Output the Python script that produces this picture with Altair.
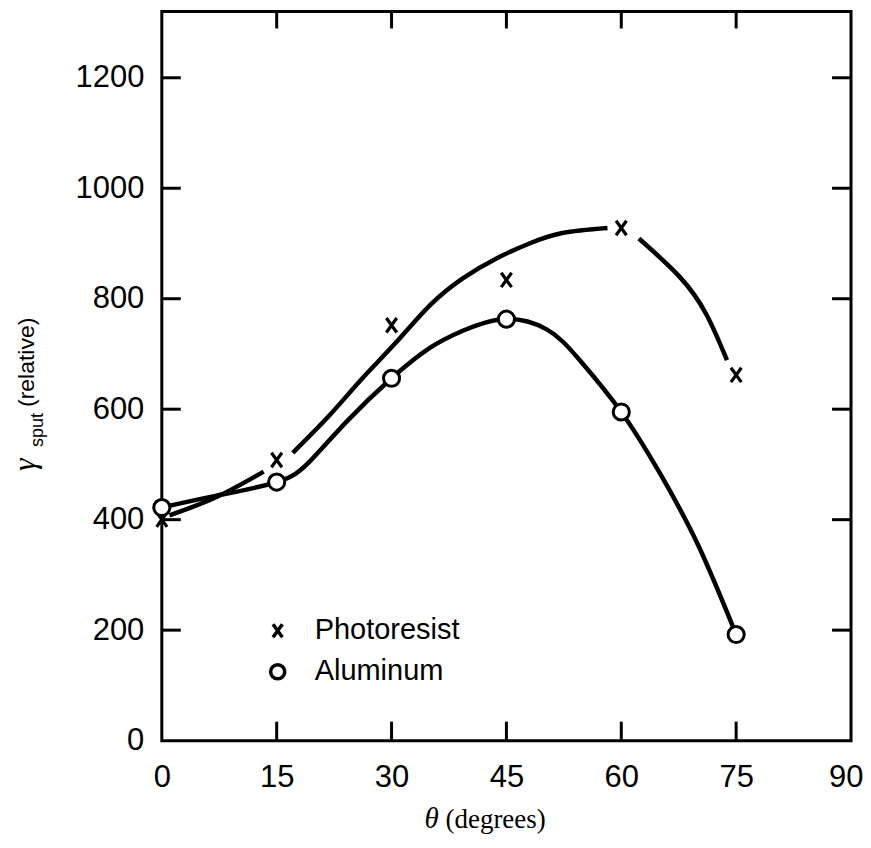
import altair as alt
import pandas as pd

# ---- data ----
theta = [0, 15, 30, 45, 60, 75]
photoresist = [400, 508, 752, 834, 928, 662]
aluminum = [422, 468, 656, 763, 595, 192]

# hand-drawn fitted curve for photoresist (broken into pieces around markers)
pr_curve_theta = [1, 7, 13.3, 17.1, 21.9, 26.2, 30.6, 35.0, 39.3, 43.7, 48.0, 52.3, 58.2,
                  62.3, 67.6, 71.1, 73.8]
pr_curve_val = [408, 440, 487, 521, 589, 656, 721, 788, 837, 873, 900, 919, 928,
                909, 840, 772, 689]
pr_curve_seg = [1, 1, 1, 2, 2, 2, 2, 2, 2, 2, 2, 2, 2, 3, 3, 3, 3]

# curve through aluminum points
al_curve_theta = [0, 7, 15, 19.3, 24.1, 30, 35, 39.3, 44.6, 50.2, 54.5, 60, 65, 70, 75]
al_curve_val = [422, 443, 468, 505, 577, 656, 711, 742, 763, 745, 690, 595, 485, 355, 192]

x_ticks = [15, 30, 45, 60, 75]
y_ticks = [200, 400, 600, 800, 1000, 1200]
x_labels = [0, 15, 30, 45, 60, 75, 90]
y_labels = [0, 200, 400, 600, 800, 1000, 1200]

legend_labels = ["Photoresist", "Aluminum"]

W, H = 690, 730
X_PATH = "M-0.72,-1L0.72,1M-0.72,1L0.72,-1"

xs = alt.Scale(domain=[0, 90], nice=False, zero=False)
ys = alt.Scale(domain=[0, 1320], nice=False, zero=False)

pts = pd.DataFrame({"theta": theta, "pr": photoresist, "al": aluminum})
pr_curve = pd.DataFrame({"theta": pr_curve_theta, "v": pr_curve_val, "seg": pr_curve_seg})
al_curve = pd.DataFrame({"theta": al_curve_theta, "v": al_curve_val})
xt = pd.DataFrame({"t": x_ticks})
yt = pd.DataFrame({"t": y_ticks})
one = pd.DataFrame({"a": [0]})

label_font = "Liberation Sans"

x_axis = alt.Axis(values=x_labels, ticks=False, domain=False, grid=False, format="d",
                  labelFontSize=31, labelFont=label_font, labelColor="black",
                  labelPadding=22, title=None, labelFlush=False, labelOverlap=False,
                  labelAlign={"condition": {"test": "datum.value == 90", "value": "right"},
                              "value": "center"},
                  labelOffset={"condition": {"test": "datum.value == 90", "value": 12},
                               "value": 0})
y_axis = alt.Axis(values=y_labels, ticks=False, domain=False, grid=False, format="d",
                  labelFontSize=31, labelFont=label_font, labelColor="black",
                  labelPadding=18, title=None, labelFlush=False, labelOverlap=False)

base_x = alt.X("theta:Q", scale=xs, axis=x_axis)
base_y = alt.Y("v:Q", scale=ys, axis=y_axis)

pr_line = alt.Chart(pr_curve).mark_line(
    interpolate="natural", color="black", strokeWidth=4.5
).encode(x=base_x, y=base_y, detail="seg:N")

al_line = alt.Chart(al_curve).mark_line(
    interpolate="natural", color="black", strokeWidth=4.5
).encode(x=alt.X("theta:Q", scale=xs), y=alt.Y("v:Q", scale=ys))

pr_pts = alt.Chart(pts).mark_point(
    shape=X_PATH, size=210, filled=False, stroke="black", strokeWidth=3.2, opacity=1
).encode(x=alt.X("theta:Q", scale=xs), y=alt.Y("pr:Q", scale=ys))

al_pts = alt.Chart(pts).mark_point(
    shape="circle", size=260, filled=True, fill="white", stroke="black",
    strokeWidth=3, opacity=1
).encode(x=alt.X("theta:Q", scale=xs), y=alt.Y("al:Q", scale=ys))

TL = 19
left_ticks = alt.Chart(yt).mark_rule(color="black", strokeWidth=3).encode(
    x=alt.value(0), x2=alt.value(TL), y=alt.Y("t:Q", scale=ys))
right_ticks = alt.Chart(yt).mark_rule(color="black", strokeWidth=3).encode(
    x=alt.value(W - TL), x2=alt.value(W), y=alt.Y("t:Q", scale=ys))
bottom_ticks = alt.Chart(xt).mark_rule(color="black", strokeWidth=3).encode(
    x=alt.X("t:Q", scale=xs), y=alt.value(H), y2=alt.value(H - TL))
top_ticks = alt.Chart(xt).mark_rule(color="black", strokeWidth=3).encode(
    x=alt.X("t:Q", scale=xs), y=alt.value(0), y2=alt.value(17))

# legend
leg_x = alt.Chart(one).mark_point(
    shape=X_PATH, size=170, filled=False, stroke="black", strokeWidth=3.5, opacity=1
).encode(x=alt.value(116), y=alt.value(620))
leg_o = alt.Chart(one).mark_point(
    shape="circle", size=200, filled=True, fill="white", stroke="black",
    strokeWidth=3.5, opacity=1
).encode(x=alt.value(116), y=alt.value(661))
leg_t1 = alt.Chart(one).mark_text(
    text=legend_labels[0], font=label_font, fontSize=29, align="left",
    baseline="alphabetic", color="black"
).encode(x=alt.value(153), y=alt.value(628))
leg_t2 = alt.Chart(one).mark_text(
    text=legend_labels[1], font=label_font, fontSize=29, align="left",
    baseline="alphabetic", color="black"
).encode(x=alt.value(153), y=alt.value(669))

# axis titles
xt_theta = alt.Chart(one).mark_text(
    text="θ", font="Liberation Serif", fontStyle="italic", fontSize=29,
    align="left", baseline="alphabetic", color="black"
).encode(x=alt.value(263), y=alt.value(817))
xt_deg = alt.Chart(one).mark_text(
    text="(degrees)", font="Liberation Serif", fontSize=27,
    align="left", baseline="alphabetic", color="black"
).encode(x=alt.value(284), y=alt.value(817))

yt_gamma = alt.Chart(one).mark_text(
    text="γ", font="Liberation Serif", fontStyle="italic", fontSize=32, angle=270,
    align="left", baseline="alphabetic", color="black"
).encode(x=alt.value(-127), y=alt.value(460))
yt_sput = alt.Chart(one).mark_text(
    text="sput", font=label_font, fontSize=18, angle=270,
    align="left", baseline="alphabetic", color="black"
).encode(x=alt.value(-119), y=alt.value(436))
yt_rel = alt.Chart(one).mark_text(
    text="(relative)", font=label_font, fontSize=23, angle=270,
    align="left", baseline="alphabetic", color="black"
).encode(x=alt.value(-128), y=alt.value(396))

chart = alt.layer(
    pr_line, al_line, pr_pts, al_pts,
    left_ticks, right_ticks, bottom_ticks, top_ticks,
    leg_x, leg_o, leg_t1, leg_t2,
    xt_theta, xt_deg, yt_gamma, yt_sput, yt_rel,
).properties(
    width=W, height=H,
    autosize=alt.AutoSizeParams(type="none"),
    padding={"left": 154, "top": 3, "right": 12, "bottom": 95},
    background="white",
).configure_view(stroke="black", strokeWidth=3)

chart.save("out.html", embed_options={"renderer": "svg", "actions": False})
